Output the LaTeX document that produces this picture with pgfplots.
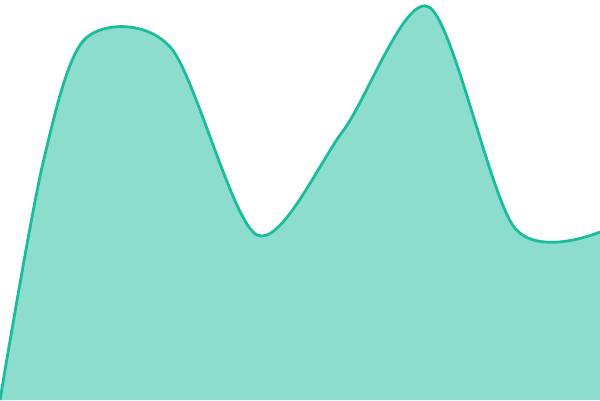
\documentclass[border=0pt]{standalone}
\usepackage{pgfplots}
\pgfplotsset{compat=1.18}
\definecolor{teal1}{HTML}{1ABC9C}
\pgfplotstableread{
x y
0 0
43 237
86 362
171 352
257 165
343 269
429 393
514 173
600 168
}\areadata
\begin{document}
\begin{tikzpicture}
  \begin{axis}[
    width=600pt, height=400pt,
    scale only axis,
    hide axis,
    xmin=0, xmax=600,
    ymin=0, ymax=400,
  ]
  % fill under the curve
  \addplot[draw=none, fill=teal1, fill opacity=0.5, smooth, tension=0.5]
    table[x=x, y=y] {\areadata} \closedcycle;
  % outline
  \addplot[draw=teal1, line width=2.8pt, smooth, tension=0.5]
    table[x=x, y=y] {\areadata};
  \end{axis}
\end{tikzpicture}
\end{document}
